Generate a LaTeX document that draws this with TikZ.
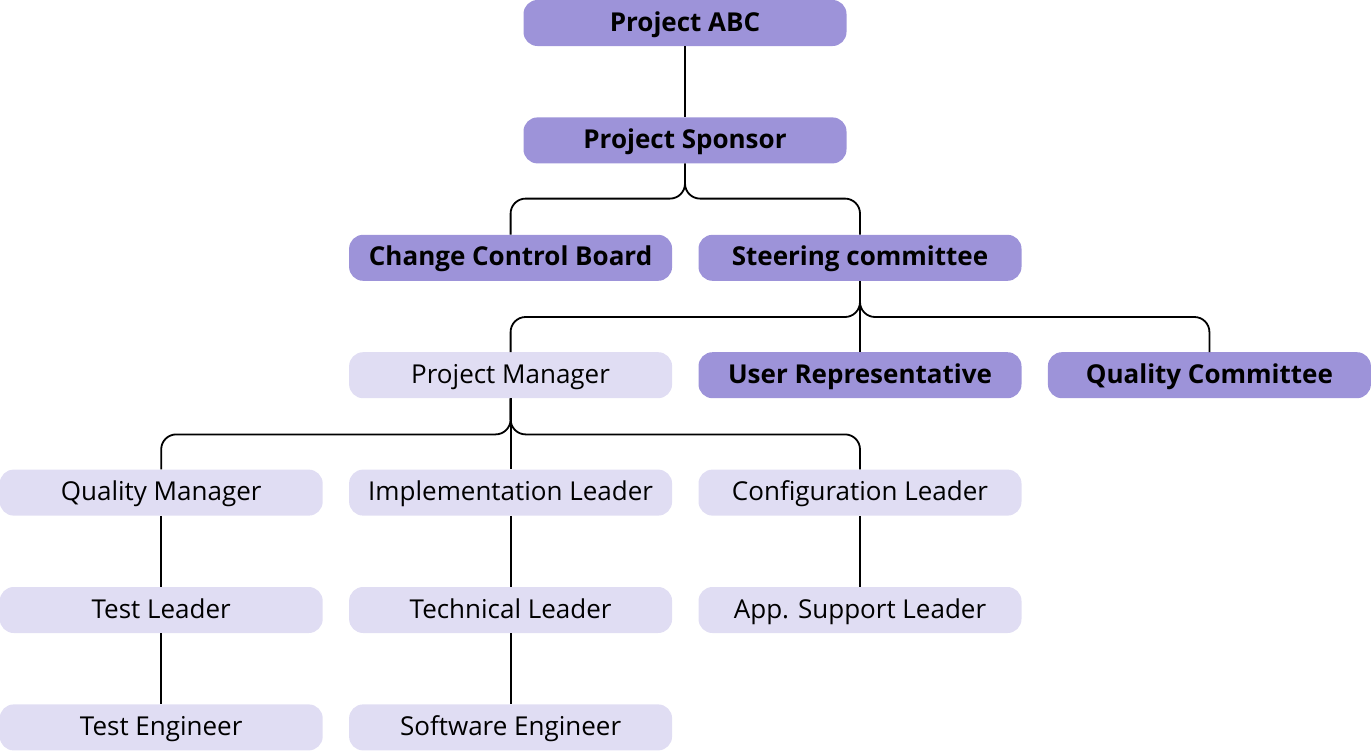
\documentclass[tikz,border=0pt]{standalone}
\usepackage{fontspec}
\setmainfont{Open Sans}
\usepackage{xcolor}
\usetikzlibrary{positioning,calc}
\definecolor{darkbox}{HTML}{9D93D9}
\definecolor{lightbox}{HTML}{E0DDF3}

\begin{document}
\begin{tikzpicture}[x=1pt,y=-1pt,node distance=71pt and 26pt,
			link/.style={draw=black,line width=1.8pt,rounded corners=15pt}]
			\tikzstyle{box}=[rectangle,rounded corners=14pt,minimum width=323pt,minimum height=46pt,inner sep=0pt,text height=17pt,text depth=1pt,text=black,font=\fontsize{26}{30}\selectfont]
			\tikzstyle{headbox}=[box,fill=darkbox,font=\fontsize{26}{30}\selectfont\bfseries]
			\tikzstyle{staffbox}=[box,fill=lightbox]
			
			\useasboundingbox (0,0) rectangle (1371,750);
			
			\node[headbox]    (abc)   at (685,23)                  {Project ABC};
			\node[headbox]    (spon)  [below=of abc]               {Project Sponsor};
			\node[headbox]    (steer) [below=of spon, xshift=175pt] {Steering committee};
			\node[headbox]    (ccb)   [left=of steer]              {Change Control Board};
			\node[staffbox]   (pm)    [below=of ccb]               {Project Manager};
			\node[headbox]    (user)  [below=of steer]             {User Representative};
			\node[headbox]    (qc)    [right=of user]              {Quality Committee};
			\node[staffbox]   (impl)  [below=of pm]                {Implementation Leader};
			\node[staffbox]   (qm)    [left=of impl]               {Quality Manager};
			\node[staffbox]   (conf)  [right=of impl]              {Configuration Leader};
			\node[staffbox]   (tl)    [below=of qm]                {Test Leader};
			\node[staffbox]   (tech)  [below=of impl]              {Technical Leader};
			\node[staffbox]   (app)   [below=of conf]              {App. Support Leader};
			\node[staffbox]   (te)    [below=of tl]                {Test Engineer};
			\node[staffbox]   (se)    [below=of tech]              {Software Engineer};
			
			\draw[link] (abc) -- (spon);
			\draw[link] (spon.south) -- ++(0,35) -| (ccb.north);
			\draw[link] (spon.south) -- ++(0,35) -| (steer.north);
			\draw[link] (steer.south) -- ++(0,36) -| (pm.north);
			\draw[link] (steer) -- (user);
			\draw[link] (steer.south) -- ++(0,36) -| (qc.north);
			\draw[link] (pm.south) -- ++(0,36) -| (qm.north);
			\draw[link] (pm) -- (impl);
			\draw[link] (pm.south) -- ++(0,36) -| (conf.north);
			\draw[link] (qm) -- (tl);
			\draw[link] (impl) -- (tech);
			\draw[link] (conf) -- (app);
			\draw[link] (tl) -- (te);
			\draw[link] (tech) -- (se);
		\end{tikzpicture}
\end{document}
